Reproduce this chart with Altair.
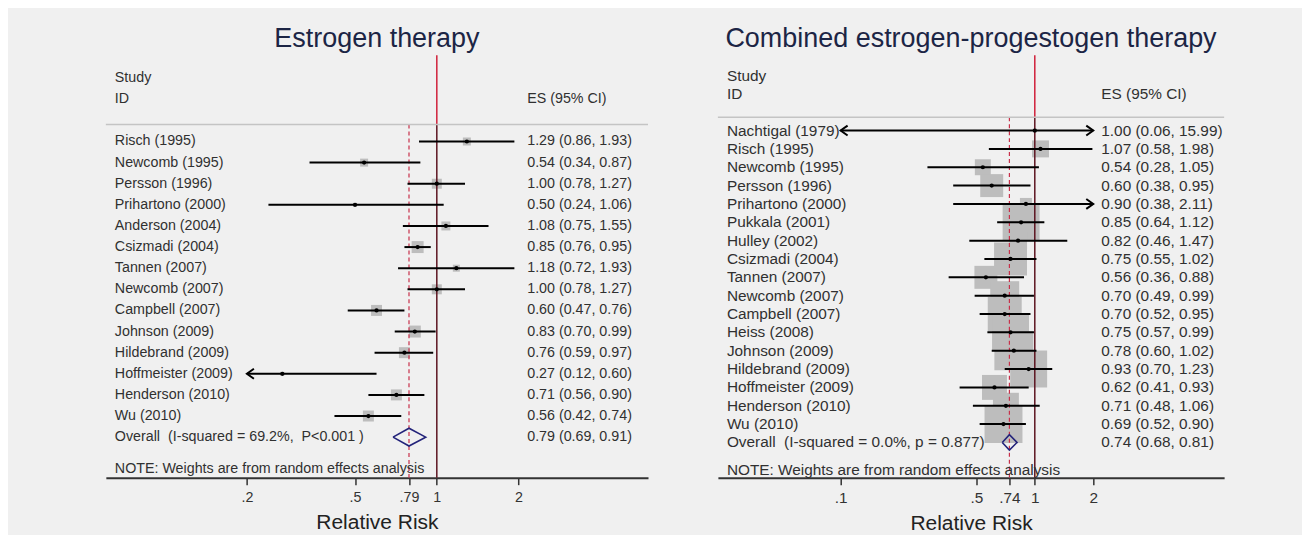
import altair as alt
import pandas as pd

FONT = "Liberation Sans, Arial, sans-serif"

# ---------------- Estrogen therapy ----------------
e_studies = ["Risch (1995)", "Newcomb (1995)", "Persson (1996)", "Prihartono (2000)",
             "Anderson (2004)", "Csizmadi (2004)", "Tannen (2007)", "Newcomb (2007)",
             "Campbell (2007)", "Johnson (2009)", "Hildebrand (2009)", "Hoffmeister (2009)",
             "Henderson (2010)", "Wu (2010)"]
e_es = [1.29, 0.54, 1.00, 0.50, 1.08, 0.85, 1.18, 1.00, 0.60, 0.83, 0.76, 0.27, 0.71, 0.56]
e_lo = [0.86, 0.34, 0.78, 0.24, 0.75, 0.76, 0.72, 0.78, 0.47, 0.70, 0.59, 0.12, 0.56, 0.42]
e_hi = [1.93, 0.87, 1.27, 1.06, 1.55, 0.95, 1.93, 1.27, 0.76, 0.99, 0.97, 0.60, 0.90, 0.74]
e_box = [8, 8, 10, 4, 9, 12, 7, 10, 11, 12, 11, 4, 11, 11]   # weight box side (px)
e_overall = [0.79, 0.69, 0.91]
e_overall_label = "Overall\u00a0\u00a0(I-squared = 69.2%,\u00a0 P<0.001 )"
e_ticks = [0.2, 0.5, 0.79, 1, 2]
e_tick_labels = [".2", ".5", ".79", "1", "2"]

# ---------------- Combined therapy ----------------
c_studies = ["Nachtigal (1979)", "Risch (1995)", "Newcomb (1995)", "Persson (1996)",
             "Prihartono (2000)", "Pukkala (2001)", "Hulley (2002)", "Csizmadi (2004)",
             "Tannen (2007)", "Newcomb (2007)", "Campbell (2007)", "Heiss (2008)",
             "Johnson (2009)", "Hildebrand (2009)", "Hoffmeister (2009)", "Henderson (2010)",
             "Wu (2010)"]
c_es = [1.00, 1.07, 0.54, 0.60, 0.90, 0.85, 0.82, 0.75, 0.56, 0.70, 0.70, 0.75, 0.78, 0.93, 0.62, 0.71, 0.69]
c_lo = [0.06, 0.58, 0.28, 0.38, 0.38, 0.64, 0.46, 0.55, 0.36, 0.49, 0.52, 0.57, 0.60, 0.70, 0.41, 0.48, 0.52]
c_hi = [15.99, 1.98, 1.05, 0.95, 2.11, 1.12, 1.47, 1.02, 0.88, 0.99, 0.95, 0.99, 1.02, 1.23, 0.93, 1.06, 0.90]
c_box = [4, 17, 16, 23, 12, 37, 18, 33, 23, 29, 34, 37, 39, 37, 25, 26, 38]
c_overall = [0.74, 0.68, 0.81]
c_overall_label = "Overall\u00a0\u00a0(I-squared = 0.0%, p = 0.877)"
c_ticks = [0.1, 0.5, 0.74, 1, 2]
c_tick_labels = [".1", ".5", ".74", "1", "2"]

NOTE = "NOTE: Weights are from random effects analysis"


def panel(title, studies, es, lo, hi, box, overall, overall_label, ticks, tick_labels,
          xdomain, clip, width, height, ydomain, header_row, note_row, label_x, es_x, fs):
    n = len(studies)
    df = pd.DataFrame({"study": studies, "es": es, "lo": lo, "hi": hi, "box": box,
                       "row": list(range(n))})
    df["area"] = df["box"] ** 2
    df["lo_d"] = df["lo"].clip(lower=clip[0])
    df["hi_d"] = df["hi"].clip(upper=clip[1])
    df["txt"] = [f"{a:.2f} ({b:.2f}, {c:.2f})" for a, b, c in zip(es, lo, hi)]

    label_expr = "".join(f"datum.value == {v} ? '{l}' : " for v, l in zip(ticks, tick_labels)) + "''"
    axis = alt.Axis(values=ticks, labelExpr=label_expr, title="Relative Risk", grid=False,
                    tickSize=7, tickWidth=1.5, tickColor="#333", domainColor="#333",
                    domainWidth=2, labelFontSize=fs, labelColor="#333", labelPadding=6,
                    labelFlush=False, labelOverlap=False, titleFontSize=21,
                    titleFontWeight="normal", titleColor="#222", titlePadding=7)
    xs = alt.Scale(type="log", domain=xdomain, nice=False)
    ys = alt.Scale(domain=ydomain, reverse=True, nice=False, zero=False)

    def X(f):
        return alt.X(f, type="quantitative", scale=xs, axis=axis)

    def Y(f):
        return alt.Y(f, type="quantitative", scale=ys, axis=None)

    # reference lines
    ref = pd.DataFrame({"x": [1.0, 1.0, overall[0]],
                        "y0": [ydomain[0], header_row, header_row],
                        "y1": [header_row, ydomain[1], ydomain[1]],
                        "kind": ["top", "null", "est"]})
    top_line = alt.Chart(ref[ref.kind == "top"]).mark_rule(color="#d0203a", strokeWidth=1.5).encode(
        x=X("x"), y=Y("y0"), y2="y1")
    null_line = alt.Chart(ref[ref.kind == "null"]).mark_rule(color="#5c1420", strokeWidth=1.5).encode(
        x=X("x"), y=Y("y0"), y2="y1")
    est_line = alt.Chart(ref[ref.kind == "est"]).mark_rule(
        color="#c8304a", strokeWidth=1.2, strokeDash=[4, 3]).encode(x=X("x"), y=Y("y0"), y2="y1")

    sep = pd.DataFrame({"x0": [xdomain[0]], "x1": [xdomain[1]], "y": [header_row]})
    sep_line = alt.Chart(sep).mark_rule(color="#c4c4c4", strokeWidth=1.5).encode(
        x=X("x0"), x2="x1", y=Y("y"))

    boxes = alt.Chart(df).mark_square(color="#bdbdbd", opacity=1).encode(
        x=X("es"), y=Y("row"), size=alt.Size("area:Q", scale=None, legend=None))
    ci = alt.Chart(df).mark_rule(color="black", strokeWidth=2).encode(
        x=X("lo_d"), x2="hi_d", y=Y("row"))
    dots = alt.Chart(df).mark_circle(color="black", size=18, opacity=1).encode(
        x=X("es"), y=Y("row"))

    layers = [boxes, top_line, null_line, est_line, sep_line, ci, dots]

    left_arr = df[df["lo"] < clip[0]]
    if len(left_arr):
        layers.append(alt.Chart(left_arr).mark_point(
            shape="M 1.4 -1 L 0 0 L 1.4 1", filled=False, size=100, stroke="black",
            strokeWidth=2, opacity=1).encode(x=X("lo_d"), y=Y("row")))
    right_arr = df[df["hi"] > clip[1]]
    if len(right_arr):
        layers.append(alt.Chart(right_arr).mark_point(
            shape="M -1.4 -1 L 0 0 L -1.4 1", filled=False, size=100, stroke="black",
            strokeWidth=2, opacity=1).encode(x=X("hi_d"), y=Y("row")))

    h = 0.42
    dia = pd.DataFrame({"x": [overall[1], overall[0], overall[2], overall[0], overall[1]],
                        "y": [n, n - h, n, n + h, n], "o": [0, 1, 2, 3, 4]})
    layers.append(alt.Chart(dia).mark_line(color="#23237a", strokeWidth=1.6).encode(
        x=X("x"), y=Y("y"), order="o:Q"))

    tcol = "#303030"
    layers.append(alt.Chart(df).mark_text(align="left", baseline="middle", fontSize=fs,
                                          color=tcol, font=FONT).encode(
        x=alt.value(label_x), y=Y("row"), text="study:N"))
    layers.append(alt.Chart(df).mark_text(align="left", baseline="middle", fontSize=fs,
                                          color=tcol, font=FONT).encode(
        x=alt.value(es_x), y=Y("row"), text="txt:N"))

    ov = pd.DataFrame({"row": [n], "lab": [overall_label],
                       "txt": [f"{overall[0]:.2f} ({overall[1]:.2f}, {overall[2]:.2f})"]})
    layers.append(alt.Chart(ov).mark_text(align="left", baseline="middle", fontSize=fs,
                                          color=tcol, font=FONT).encode(
        x=alt.value(label_x), y=Y("row"), text="lab:N"))
    layers.append(alt.Chart(ov).mark_text(align="left", baseline="middle", fontSize=fs,
                                          color=tcol, font=FONT).encode(
        x=alt.value(es_x), y=Y("row"), text="txt:N"))

    hdr = pd.DataFrame({"row": [-3, -2, note_row], "lab": ["Study", "ID", NOTE]})
    layers.append(alt.Chart(hdr).mark_text(align="left", baseline="middle", fontSize=fs,
                                           color=tcol, font=FONT).encode(
        x=alt.value(label_x), y=Y("row"), text="lab:N"))
    es_hdr = pd.DataFrame({"row": [-2], "lab": ["ES (95% CI)"]})
    layers.append(alt.Chart(es_hdr).mark_text(align="left", baseline="middle", fontSize=fs,
                                              color=tcol, font=FONT).encode(
        x=alt.value(es_x), y=Y("row"), text="lab:N"))

    return alt.layer(*layers).properties(
        width=width, height=height,
        title=alt.Title(title, fontSize=27, fontWeight="normal", color="#1c2545",
                        font=FONT, anchor="middle", offset=2))


left = panel("Estrogen therapy", e_studies, e_es, e_lo, e_hi, e_box, e_overall,
             e_overall_label, e_ticks, e_tick_labels,
             xdomain=[0.0605, 5.99], clip=[0.2, 2.0], width=543, height=423,
             ydomain=[-4.08, 15.92], header_row=-0.8, note_row=15.5,
             label_x=9, es_x=422, fs=14.3)

right = panel("Combined estrogen-progestogen therapy", c_studies, c_es, c_lo, c_hi, c_box,
              c_overall, c_overall_label, c_ticks, c_tick_labels,
              xdomain=[0.02334, 9.44], clip=[0.1, 2.0], width=507, height=423,
              ydomain=[-4.1, 18.92], header_row=-0.73, note_row=18.5,
              label_x=9, es_x=384, fs=15.4)

chart = alt.hconcat(left, right, spacing=70, bounds="flush").properties(
    padding={"left": 97, "top": 16, "right": 77, "bottom": 0},
    background="#f0f0f0",
).configure(font=FONT, view=alt.ViewConfig(strokeWidth=0))

chart.save("out.html", embed_options={"renderer": "svg", "actions": False})
